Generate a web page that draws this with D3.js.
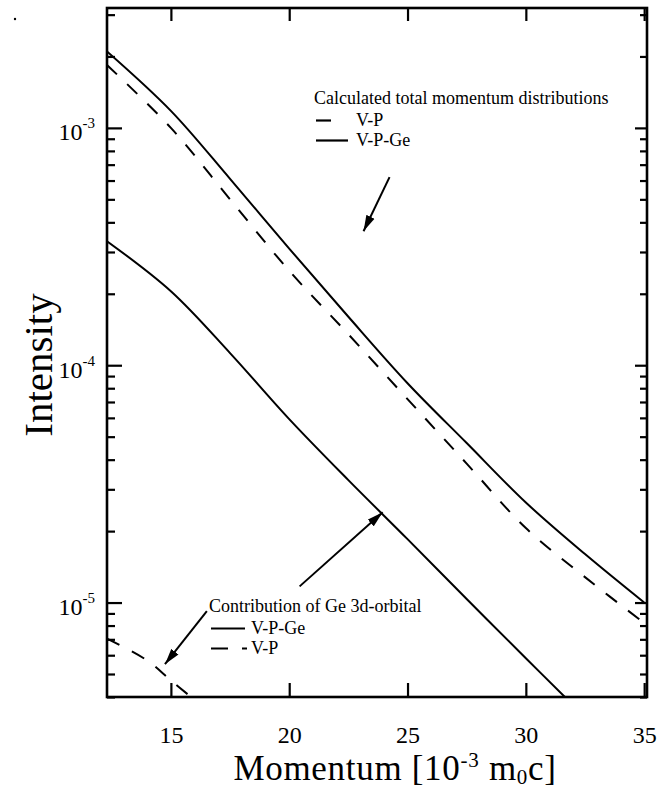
<!DOCTYPE html>
<html>
<head>
<meta charset="utf-8">
<script src="https://cdn.jsdelivr.net/npm/d3@7"></script>
<style>
  body { margin: 0; background: #fff; }
  svg { display: block; }
  svg text { font-family: "Liberation Serif", "Times New Roman", serif; fill: #000; }
</style>
</head>
<body>
<script>
// Datos (momentum en 10^-3 m0c)
const momentum = [12.3, 15, 17.5, 20, 22.5, 25, 27.5, 30, 32.5, 35];
const totalVPGe = [2.1e-3, 1.18e-3, 6.1e-4, 3.1e-4, 1.6e-4, 8.4e-5, 4.7e-5, 2.64e-5, 1.6e-5, 1.0e-5];
const totalVP = [1.84e-3, 1.0e-3, 5.0e-4, 2.5e-4, 1.35e-4, 7.2e-5, 3.85e-5, 2.06e-5, 1.28e-5, 8.2e-6];

const ge3dMomentum = [12.3, 15, 17.5, 20, 22.5, 25, 27.5, 30, 31.65];
const ge3dVPGe = [3.33e-4, 2.05e-4, 1.125e-4, 5.93e-5, 3.28e-5, 1.85e-5, 1.035e-5, 5.83e-6, 4.0e-6];
const ge3dVPMomentum = [12.3, 14, 15, 15.85];
const ge3dVP = [7.05e-6, 5.7e-6, 4.7e-6, 4.0e-6];

const xTicks = [15, 20, 25, 30, 35];
const yTicks = [1e-5, 1e-4, 1e-3];
const yMinorTicks = [4e-6, 5e-6, 6e-6, 7e-6, 8e-6, 9e-6,
  2e-5, 3e-5, 4e-5, 5e-5, 6e-5, 7e-5, 8e-5, 9e-5,
  2e-4, 3e-4, 4e-4, 5e-4, 6e-4, 7e-4, 8e-4, 9e-4,
  2e-3, 3e-3];

// Flechas de anotacion: [cola, punta] en coordenadas de datos
const arrowTotal = [[24.24, 6.2e-4], [23.14, 3.67e-4]];
const arrowGe3d = [[20.44, 1.17e-5], [23.95, 2.4e-5]];
const arrowGe3dLegend = [[16.52, 9.2e-6], [14.75, 5.5e-6]];

// Dimensiones
const W = 669, H = 789;
const margin = { top: 8, right: 22, bottom: 92, left: 107 };

const x = d3.scaleLinear()
  .domain([12.3, 35.12])
  .range([margin.left, W - margin.right]);

const y = d3.scaleLog()
  .domain([4e-6, 3.2e-3])
  .range([H - margin.bottom, margin.top]);

const svg = d3.create("svg")
  .attr("width", W)
  .attr("height", H)
  .attr("viewBox", [0, 0, W, H]);

const defs = svg.append("defs");
defs.append("clipPath")
  .attr("id", "clip")
  .append("rect")
  .attr("x", margin.left)
  .attr("y", margin.top)
  .attr("width", W - margin.left - margin.right)
  .attr("height", H - margin.top - margin.bottom);

defs.append("marker")
  .attr("id", "head")
  .attr("markerUnits", "userSpaceOnUse")
  .attr("viewBox", "0 -5 16 10")
  .attr("refX", 16)
  .attr("refY", 0)
  .attr("markerWidth", 16)
  .attr("markerHeight", 10)
  .attr("orient", "auto")
  .append("path")
  .attr("d", "M0,-4.5L16,0L0,4.5Z")
  .attr("fill", "#000");

// Ejes (ticks hacia dentro en los cuatro lados)
function styleAxis(g) {
  g.select(".domain").remove();
  g.selectAll(".tick line").attr("stroke", "#000").attr("stroke-width", 2.2);
}

svg.append("g")
  .attr("transform", `translate(0,${H - margin.bottom})`)
  .call(d3.axisBottom(x).tickValues(xTicks).tickSize(-14).tickPadding(29).tickFormat(d3.format("d")))
  .call(styleAxis)
  .call(g => g.selectAll("text").attr("font-size", 24));

svg.append("g")
  .attr("transform", `translate(0,${margin.top})`)
  .call(d3.axisTop(x).tickValues(xTicks).tickSize(-13).tickFormat(""))
  .call(styleAxis);

const yLeft = svg.append("g")
  .attr("transform", `translate(${margin.left},0)`)
  .call(d3.axisLeft(y).tickValues(yTicks).tickSize(-15).tickPadding(12).tickFormat(""))
  .call(styleAxis);

yLeft.selectAll(".tick text")
  .attr("font-size", 24)
  .attr("dy", "0.5em")
  .each(function(d) {
    const t = d3.select(this);
    t.text("10");
    t.append("tspan")
      .attr("font-size", 15)
      .attr("dy", "-0.8em")
      .text(Math.round(Math.log10(d)));
  });

svg.append("g")
  .attr("transform", `translate(${margin.left},0)`)
  .call(d3.axisLeft(y).tickValues(yMinorTicks).tickSize(-8).tickFormat(""))
  .call(styleAxis);

svg.append("g")
  .attr("transform", `translate(${W - margin.right},0)`)
  .call(d3.axisRight(y).tickValues(yTicks).tickSize(-12).tickFormat(""))
  .call(styleAxis);

svg.append("g")
  .attr("transform", `translate(${W - margin.right},0)`)
  .call(d3.axisRight(y).tickValues(yMinorTicks).tickSize(-7).tickFormat(""))
  .call(styleAxis);

// Marco
svg.append("rect")
  .attr("x", margin.left)
  .attr("y", margin.top)
  .attr("width", W - margin.left - margin.right)
  .attr("height", H - margin.top - margin.bottom)
  .attr("fill", "none")
  .attr("stroke", "#000")
  .attr("stroke-width", 2.6);

// Curvas
const line = d3.line()
  .x(d => x(d[0]))
  .y(d => y(d[1]))
  .curve(d3.curveCatmullRom.alpha(0.5));

const series = [
  { xs: momentum, ys: totalVPGe, dash: null },
  { xs: momentum, ys: totalVP, dash: "14,14" },
  { xs: ge3dMomentum, ys: ge3dVPGe, dash: null },
  { xs: ge3dVPMomentum, ys: ge3dVP, dash: "14,14" }
];

svg.append("g")
  .attr("clip-path", "url(#clip)")
  .selectAll("path")
  .data(series)
  .join("path")
  .attr("d", s => line(d3.zip(s.xs, s.ys)))
  .attr("fill", "none")
  .attr("stroke", "#000")
  .attr("stroke-width", 2)
  .attr("stroke-dasharray", s => s.dash);

// Flechas
svg.append("g")
  .selectAll("line")
  .data([arrowTotal, arrowGe3d, arrowGe3dLegend])
  .join("line")
  .attr("x1", d => x(d[0][0]))
  .attr("y1", d => y(d[0][1]))
  .attr("x2", d => x(d[1][0]))
  .attr("y2", d => y(d[1][1]))
  .attr("stroke", "#000")
  .attr("stroke-width", 2)
  .attr("marker-end", "url(#head)");

// Leyendas
function legend(g, title, items) {
  g.append("text")
    .attr("x", 0)
    .attr("y", 0)
    .attr("font-size", 18)
    .text(title);
  items.forEach((it, i) => {
    const yy = 22 + i * 20;
    g.append("path")
      .attr("d", it.sample)
      .attr("transform", `translate(2,${yy - 5.5})`)
      .attr("stroke", "#000")
      .attr("stroke-width", 2.2)
      .attr("fill", "none");
    g.append("text")
      .attr("x", 42)
      .attr("y", yy)
      .attr("font-size", 18)
      .text(it.label);
  });
}

svg.append("g")
  .attr("transform", "translate(314,104)")
  .call(legend, "Calculated total momentum distributions", [
    { label: "V-P", sample: "M0,0H15" },
    { label: "V-P-Ge", sample: "M0,0H32" }
  ]);

svg.append("g")
  .attr("transform", "translate(209,612)")
  .call(legend, "Contribution of Ge 3d-orbital", [
    { label: "V-P-Ge", sample: "M0,0H34" },
    { label: "V-P", sample: "M0,0H17M31,0H36" }
  ]);

// Titulos de ejes
svg.append("text")
  .attr("x", (margin.left + W - margin.right) / 2 + 18)
  .attr("y", 780)
  .attr("text-anchor", "middle")
  .attr("font-size", 35)
  .attr("letter-spacing", 0.7)
  .call(t => {
    t.append("tspan").text("Momentum [10");
    t.append("tspan").attr("font-size", 21).attr("dy", -13).text("-3");
    t.append("tspan").attr("dy", 13).text(" m");
    t.append("tspan").attr("font-size", 21).attr("dy", 4).text("0");
    t.append("tspan").attr("dy", -4).text("c]");
  });

svg.append("text")
  .attr("transform", `translate(52,365) rotate(-90)`)
  .attr("text-anchor", "middle")
  .attr("font-size", 41)
  .text("Intensity");

// Punto suelto en la esquina
svg.append("circle")
  .attr("cx", 15)
  .attr("cy", 19)
  .attr("r", 1.2)
  .attr("fill", "#000");

document.body.appendChild(svg.node());
</script>
</body>
</html>
